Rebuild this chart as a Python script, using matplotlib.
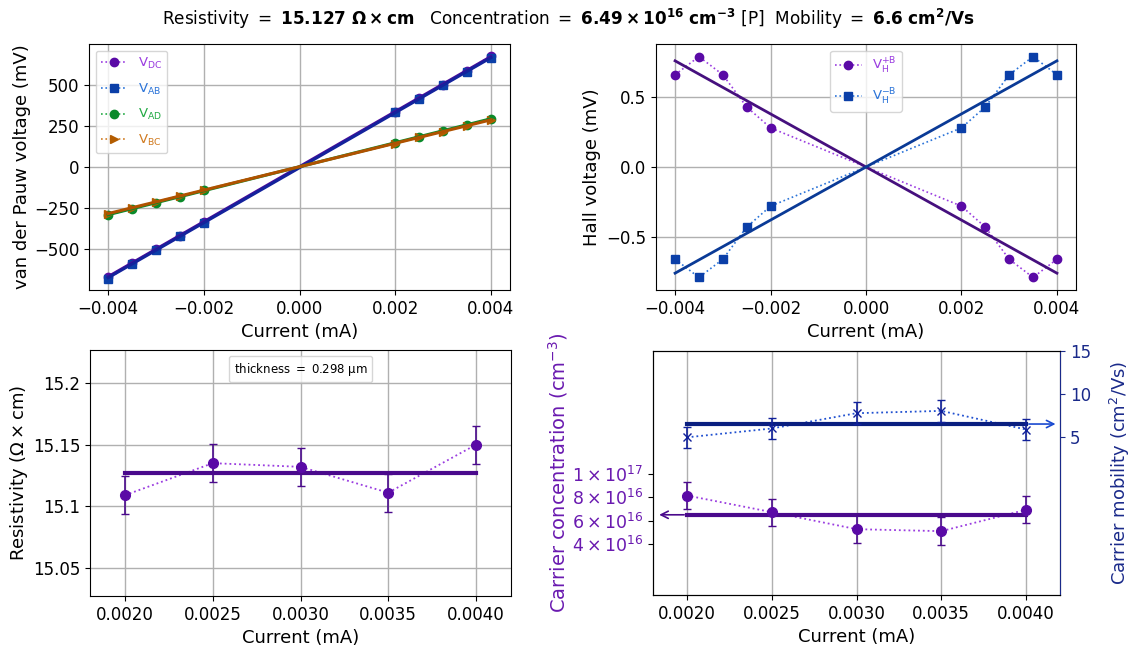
import numpy as np
import matplotlib
matplotlib.use("Agg")
import matplotlib.pyplot as plt
from matplotlib.lines import Line2D
from matplotlib.ticker import FixedLocator, FuncFormatter

# ---------------- data ----------------
current_vdp = [-0.004, -0.0035, -0.003, -0.0025, -0.002, 0.002, 0.0025, 0.003, 0.0035, 0.004]
v_dc = [-668, -585, -500, -418, -335, 338, 420, 503, 587, 678]
v_ab = [-680, -590, -505, -422, -340, 333, 416, 498, 582, 665]
v_ad = [-292, -255, -218, -180, -143, 147, 184, 220, 258, 295]
v_bc = [-286, -250, -212, -176, -138, 143, 180, 216, 253, 287]

current_hall = [-0.004, -0.0035, -0.003, -0.0025, -0.002, 0.002, 0.0025, 0.003, 0.0035, 0.004]
vh_plus = [0.66, 0.79, 0.66, 0.43, 0.28, -0.28, -0.43, -0.66, -0.79, -0.66]
vh_minus = [-0.66, -0.79, -0.66, -0.43, -0.28, 0.28, 0.43, 0.66, 0.79, 0.66]

current_pos = [0.002, 0.0025, 0.003, 0.0035, 0.004]
resistivity = [15.109, 15.135, 15.132, 15.111, 15.150]
resistivity_err = [0.0155, 0.0155, 0.0155, 0.0155, 0.0155]
concentration = [8.14e16, 6.72e16, 5.26e16, 5.09e16, 6.92e16]
concentration_err = [1.17e16, 1.16e16, 1.2e16, 1.17e16, 1.16e16]
mobility = [4.95, 5.98, 7.76, 8.03, 5.86]
mobility_err = [1.22, 1.24, 1.26, 1.24, 1.2]

resistivity_mean = 15.127
concentration_mean = 6.49e16
mobility_mean = 6.5
thickness_text = "thickness $=$ 0.298 µm"
title_text = (r"Resistivity $=$ $\mathbf{15.127\ \Omega\times cm}$   "
              r"Concentration $=$ $\mathbf{6.49\times10^{16}\ cm^{-3}}$ [P]  "
              r"Mobility $=$ $\mathbf{6.6\ cm^{2}/Vs}$")

# ---------------- style ----------------
plt.rcParams['font.family'] = ['DejaVu Sans']
plt.rcParams['font.size'] = 13
plt.rcParams['xtick.labelsize'] = 12
plt.rcParams['ytick.labelsize'] = 12
plt.rcParams['mathtext.default'] = 'regular'

W, H = 1137, 647
fig = plt.figure(figsize=(W / 100, H / 100), dpi=100)


def ax_px(l, t, r, b):
    return fig.add_axes([l / W, 1 - b / H, (r - l) / W, (b - t) / H])


purple_m = "#5a0aa6"
purple_l = "#9a3ce0"
purple_d = "#4a0a8c"
blue_m = "#0b3fa8"
blue_l = "#2a73d8"
blue_d = "#10209a"
green_m = "#0a8a2a"
green_l = "#22aa44"
brown_m = "#b35c00"
brown_l = "#d07a20"

# ---------------- top-left: van der Pauw ----------------
ax1 = ax_px(89, 44, 510, 290)
series = [
    (v_dc, 'o', purple_m, purple_l, r"V$_{\mathrm{DC}}$", "#4b0a9a"),
    (v_ab, 's', blue_m, blue_l, r"V$_{\mathrm{AB}}$", "#14229c"),
    (v_ad, 'o', green_m, green_l, r"V$_{\mathrm{AD}}$", "#0a8a2a"),
    (v_bc, '>', brown_m, brown_l, r"V$_{\mathrm{BC}}$", "#b05200"),
]
x = np.array(current_vdp)
handles = []
for y, mk, cm, cl, lab, cf in series:
    y = np.array(y)
    h, = ax1.plot(x, y, ls=':', color=cl, marker=mk, mfc=cm, mec=cm, ms=6, lw=1.2, label=lab)
    handles.append(h)
for y, mk, cm, cl, lab, cf in series:
    p = np.polyfit(x, np.array(y), 1)
    xx = np.array([x.min(), x.max()])
    ax1.plot(xx, np.polyval(p, xx), '-', color=cf, lw=2.2)
ax1.set_xlim(-0.0044, 0.0044)
ax1.set_ylim(-750, 750)
ax1.set_yticks([-500, -250, 0, 250, 500])
ax1.set_xticks([-0.004, -0.002, 0, 0.002, 0.004])
ax1.set_xticklabels(["−0.004", "−0.002", "0.000", "0.002", "0.004"])
ax1.grid(True, color="#b0b0b0", lw=1)
ax1.set_axisbelow(True)
ax1.set_xlabel("Current (mA)")
ax1.set_ylabel("van der Pauw voltage (mV)", labelpad=2)
leg = ax1.legend(handles=handles, loc='upper left', fontsize=9.5, handlelength=2.0, labelspacing=0.8)
for t, s in zip(leg.get_texts(), series):
    t.set_color(s[3])

# ---------------- top-right: Hall ----------------
ax2 = ax_px(656, 44, 1076, 290)
xh = np.array(current_hall)
hp, = ax2.plot(xh, vh_plus, ls=':', color=purple_l, marker='o', mfc=purple_m, mec=purple_m, ms=6, lw=1.2,
               label=r"V$_{\mathrm{H}}^{\mathrm{+B}}$")
hm, = ax2.plot(xh, vh_minus, ls=':', color=blue_l, marker='s', mfc=blue_m, mec=blue_m, ms=6, lw=1.2,
               label=r"V$_{\mathrm{H}}^{\mathrm{-B}}$")
xx = np.array([xh.min(), xh.max()])
pp = np.polyfit(xh, vh_plus, 1)
pm = np.polyfit(xh, vh_minus, 1)
ax2.plot(xx, np.polyval(pp, xx), '-', color="#46107e", lw=2)
ax2.plot(xx, np.polyval(pm, xx), '-', color="#0a3a96", lw=2)
ax2.set_xlim(-0.0044, 0.0044)
ax2.set_ylim(-0.88, 0.88)
ax2.set_yticks([-0.5, 0.0, 0.5])
ax2.set_yticklabels(["−0.5", "0.0", "0.5"])
ax2.set_xticks([-0.004, -0.002, 0, 0.002, 0.004])
ax2.set_xticklabels(["−0.004", "−0.002", "0.000", "0.002", "0.004"])
ax2.grid(True, color="#b0b0b0", lw=1)
ax2.set_axisbelow(True)
ax2.set_xlabel("Current (mA)")
ax2.set_ylabel("Hall voltage (mV)")
leg2 = ax2.legend(handles=[hp, hm], loc='upper center', fontsize=9.5, labelspacing=0.8)
leg2.get_texts()[0].set_color(purple_l)
leg2.get_texts()[1].set_color(blue_l)

# ---------------- bottom-left: resistivity ----------------
ax3 = ax_px(90, 350, 511, 596)
ax3.errorbar(current_pos, resistivity, yerr=resistivity_err, fmt='o', color=purple_d, mfc=purple_m,
             mec=purple_m, ms=7, capsize=3, elinewidth=1.2, zorder=3)
ax3.plot(current_pos, resistivity, ':', color=purple_l, lw=1.3, zorder=2)
ax3.plot([current_pos[0], current_pos[-1]], [resistivity_mean] * 2, '-', color=purple_d, lw=3, zorder=2)
ax3.set_xlim(0.0018, 0.0042)
ax3.set_ylim(resistivity_mean - 0.1, resistivity_mean + 0.1)
ax3.set_xticks(current_pos)
ax3.set_xticklabels(["0.0020", "0.0025", "0.0030", "0.0035", "0.0040"])
ax3.set_yticks([15.05, 15.1, 15.15, 15.2])
ax3.set_yticklabels(["15.05", "15.1", "15.15", "15.2"])
ax3.grid(True, color="#b0b0b0", lw=1)
ax3.set_axisbelow(True)
ax3.set_xlabel("Current (mA)")
ax3.set_ylabel(r"Resistivity ($\Omega\times$cm)", labelpad=2)
ax3.legend(handles=[Line2D([], [], ls='none')], labels=[thickness_text], loc='upper center',
           fontsize=8.5, handlelength=0, handletextpad=0)

# ---------------- bottom-right: concentration & mobility ----------------
ax4 = ax_px(653, 351, 1060, 595)
ax5 = ax4.twinx()
conc_c = "#6a1ab0"
mob_c = "#1a2a8a"
ax4.errorbar(current_pos, concentration, yerr=concentration_err, fmt='o', color=purple_d, mfc=purple_m,
             mec=purple_m, ms=7, capsize=3, elinewidth=1.2, zorder=3)
ax4.plot(current_pos, concentration, ':', color=purple_l, lw=1.3, zorder=2)
ax4.plot([current_pos[0], current_pos[-1]], [concentration_mean] * 2, '-', color=purple_d, lw=3, zorder=2)
ax4.annotate('', xy=(0.00182, concentration_mean), xytext=(current_pos[0], concentration_mean),
             arrowprops=dict(arrowstyle='->', color=purple_d, lw=1.2))
ax4.set_xlim(0.0018, 0.0042)
ax4.set_ylim(-0.37e16, 2.05e17)
ax4.yaxis.set_major_locator(FixedLocator([4e16, 6e16, 8e16, 1e17]))
labels = {4e16: r"$4\times10^{16}$", 6e16: r"$6\times10^{16}$", 8e16: r"$8\times10^{16}$", 1e17: r"$1\times10^{17}$"}
ax4.yaxis.set_major_formatter(FuncFormatter(lambda v, p: labels.get(min(labels, key=lambda k: abs(k - v)), "")))
ax4.tick_params(axis='y', colors=conc_c, labelsize=12.5)
ax4.tick_params(axis='y', color='black')
ax4.set_xticks(current_pos)
ax4.set_xticklabels(["0.0020", "0.0025", "0.0030", "0.0035", "0.0040"])
ax4.grid(True, axis='x', color="#b0b0b0", lw=1)
ax4.set_axisbelow(True)
ax4.set_xlabel("Current (mA)")
ax4.set_ylabel(r"Carrier concentration (cm$^{-3}$)", color=conc_c, fontsize=14, labelpad=1)

ax5.errorbar(current_pos, mobility, yerr=mobility_err, fmt='x', color=blue_d, mec=blue_d, ms=6,
             capsize=3, elinewidth=1.2, zorder=3)
ax5.plot(current_pos, mobility, ':', color="#2050d0", lw=1.3, zorder=2)
ax5.plot([current_pos[0], current_pos[-1]], [mobility_mean] * 2, '-', color="#0a1f80", lw=3, zorder=2)
ax5.annotate('', xy=(0.00419, mobility_mean), xytext=(current_pos[-1], mobility_mean),
             arrowprops=dict(arrowstyle='->', color="#1a4ad0", lw=1.2))
ax5.set_ylim(-13.4, 15)
ax5.set_yticks([5, 10, 15])
ax5.tick_params(axis='y', colors=mob_c, labelsize=12)
ax5.spines['right'].set_color(mob_c)
ax5.set_ylabel(r"Carrier mobility (cm$^2$/Vs)", color=mob_c, fontsize=13, labelpad=12)

fig.suptitle(title_text, y=0.99, fontsize=12.2)

fig.savefig("out.png", dpi=100)
